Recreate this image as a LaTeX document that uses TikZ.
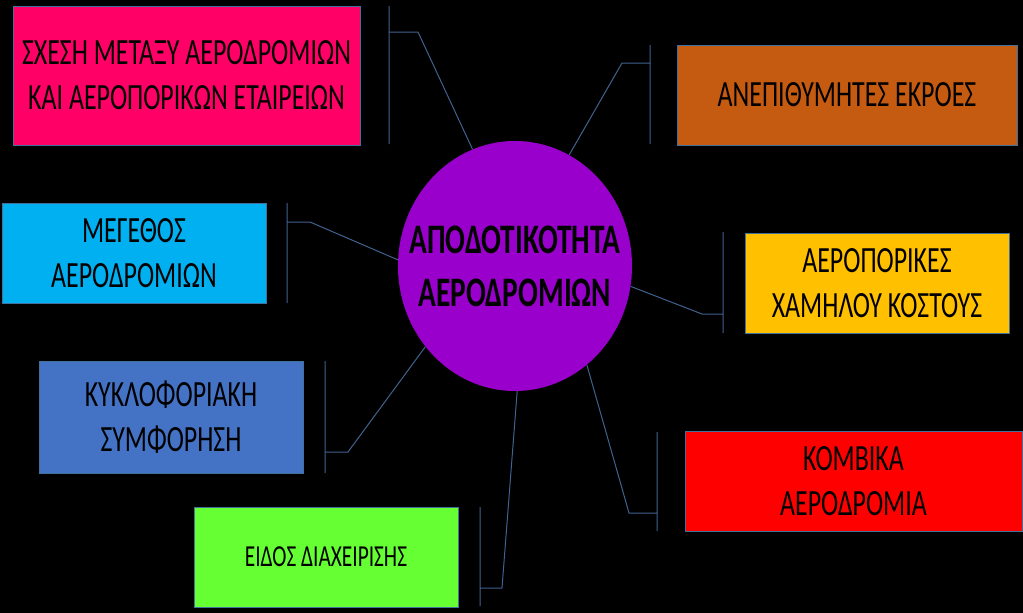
\documentclass[tikz,border=0pt]{standalone}
\usepackage{fontspec}
\newfontfamily\boxfont[FakeStretch=0.7]{Carlito}
\usetikzlibrary{shapes.geometric}
\definecolor{pinkbox}{HTML}{FF0066}
\definecolor{orangebox}{HTML}{C55A11}
\definecolor{yellowbox}{HTML}{FFC000}
\definecolor{cyanbox}{HTML}{00B0F0}
\definecolor{bluebox}{HTML}{4472C4}
\definecolor{greenbox}{HTML}{66FF33}
\definecolor{redbox}{HTML}{FF0000}
\definecolor{hubviolet}{HTML}{9900CC}
\definecolor{rimblue}{HTML}{41719C}
\definecolor{linkblue}{HTML}{41628F}
\begin{document}
\begin{tikzpicture}
      [x=1pt,y=-1pt,
       box/.style={draw=rimblue, line width=0.8pt, rectangle, inner sep=0pt, align=center,
         minimum width=264pt, minimum height=100pt, font=\boxfont\fontsize{37}{45}\selectfont},
       hub/.style={ellipse, fill=hubviolet, inner xsep=-40pt, inner ysep=0pt, minimum width=234pt, minimum height=250pt,
         align=center, font=\boxfont\bfseries\fontsize{42}{53}\selectfont},
       link/.style={draw=linkblue, line width=1pt}]
    \fill[black] (0,0) rectangle (1023,613);
    \useasboundingbox (0,0) rectangle (1023,613);

    \node[hub] (c) at (515,266) {ΑΠΟΔΟΤΙΚΟΤΗΤΑ\\ΑΕΡΟΔΡΟΜΙΩΝ};

    \node[box, fill=pinkbox, minimum width=347pt, minimum height=139pt] (pk) at (186.5,75.5) {ΣΧΕΣΗ ΜΕΤΑΞΥ ΑΕΡΟΔΡΟΜΙΩΝ\\ΚΑΙ ΑΕΡΟΠΟΡΙΚΩΝ ΕΤΑΙΡΕΙΩΝ};
    \node[box, fill=orangebox, minimum width=340pt] (or) at (847,95) {ΑΝΕΠΙΘΥΜΗΤΕΣ ΕΚΡΟΕΣ};
    \node[box, fill=cyanbox] (cy) at (134,253) {ΜΕΓΕΘΟΣ\\ΑΕΡΟΔΡΟΜΙΩΝ};
    \node[box, fill=yellowbox] (ye) at (877,283) {ΑΕΡΟΠΟΡΙΚΕΣ\\ΧΑΜΗΛΟΥ ΚΟΣΤΟΥΣ};
    \node[box, fill=bluebox, minimum height=112pt] (bl) at (171,417) {ΚΥΚΛΟΦΟΡΙΑΚΗ\\ΣΥΜΦΟΡΗΣΗ};
    \node[box, fill=greenbox, font=\boxfont\fontsize{30.5}{36}\selectfont] (gr) at (326,557) {ΕΙΔΟΣ ΔΙΑΧΕΙΡΙΣΗΣ};
    \node[box, fill=redbox, minimum width=337pt] (rd) at (853.5,481) {ΚΟΜΒΙΚΑ\\ΑΕΡΟΔΡΟΜΙΑ};

    % bracket ends, stubs and knees
    \coordinate (pk-t) at (389,6);   \coordinate (pk-b) at (389,144);
    \coordinate (pk-s) at (389,32);  \coordinate (pk-k) at (418,32);
    \coordinate (or-t) at (650,45);  \coordinate (or-b) at (650,144);
    \coordinate (or-s) at (650,63);  \coordinate (or-k) at (622,63);
    \coordinate (cy-t) at (287,203); \coordinate (cy-b) at (287,303);
    \coordinate (cy-s) at (287,222); \coordinate (cy-k) at (310,222);
    \coordinate (ye-t) at (723,232); \coordinate (ye-b) at (723,333);
    \coordinate (ye-s) at (723,314); \coordinate (ye-k) at (702,314);
    \coordinate (bl-t) at (325,361); \coordinate (bl-b) at (325,473);
    \coordinate (bl-s) at (325,452); \coordinate (bl-k) at (348,452);
    \coordinate (gr-t) at (480,507); \coordinate (gr-b) at (480,606);
    \coordinate (gr-s) at (480,588); \coordinate (gr-k) at (502,588);
    \coordinate (rd-t) at (657,432); \coordinate (rd-b) at (657,531);
    \coordinate (rd-s) at (657,513); \coordinate (rd-k) at (629,513);

    \foreach \n/\a in {pk/110, or/64, cy/177, ye/350, bl/222, gr/271, rd/306}
      \draw[link] (c.\a) -- (\n-k) -- (\n-s) (\n-t) -- (\n-b);
  \end{tikzpicture}
\end{document}
